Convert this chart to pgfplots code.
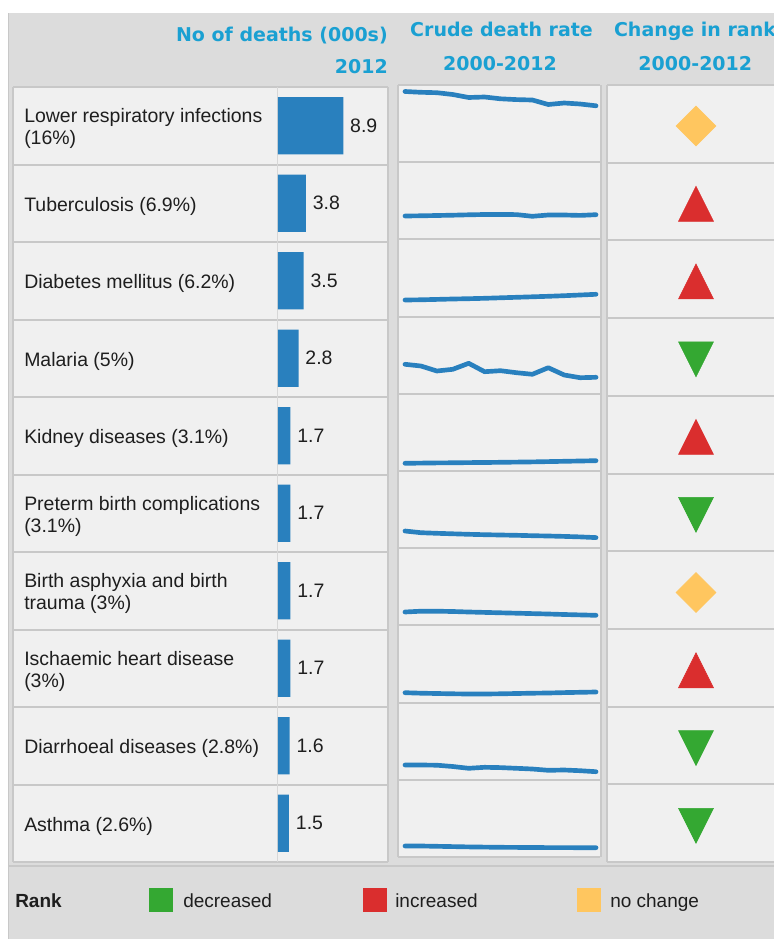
\documentclass[border=0pt]{standalone}
\usepackage{fontspec}
\setmainfont{Liberation Sans}
\newfontfamily\headfont{DejaVu Sans}
\usepackage{pgfplots}
\usepackage{pgfplotstable}
\pgfplotsset{compat=1.18}
\definecolor{panel}{RGB}{220,220,220}
\definecolor{cellbg}{RGB}{240,240,240}
\definecolor{gridc}{RGB}{200,200,200}
\definecolor{divc}{RGB}{215,215,215}
\definecolor{barblue}{RGB}{41,128,190}
\definecolor{headc}{RGB}{26,160,210}
\definecolor{rgreen}{RGB}{52,168,50}
\definecolor{rred}{RGB}{218,46,46}
\definecolor{rorange}{RGB}{255,198,95}
\definecolor{txt}{RGB}{30,30,30}
\newcommand{\labfont}{\fontsize{14.6pt}{16.5pt}\selectfont}
\newcommand{\hfont}{\headfont\bfseries\fontsize{14.25pt}{16pt}\selectfont}

% sparkline positions (screen rows, larger = lower), one column per cause
\pgfplotstableread{
year r1 r2 r3 r4 r5 r6 r7 r8 r9 r10
2000 91.5 216.0 300.0 364.3 463.3 531.0 612.0 692.7 765.0 846.0
2001 92.3 215.8 299.8 366.0 463.1 532.7 611.2 693.2 765.0 846.0
2002 92.7 215.5 299.4 371.0 462.9 533.3 611.2 693.5 765.2 846.3
2003 94.5 215.2 299.0 369.3 462.8 533.8 611.5 693.8 766.5 846.6
2004 97.5 214.8 298.7 363.3 462.6 534.3 612.0 694.0 768.3 846.9
2005 97.0 214.5 298.3 371.7 462.5 534.7 612.4 694.0 767.3 847.1
2006 98.8 214.5 297.8 370.7 462.3 535.0 612.8 693.8 767.6 847.3
2007 99.6 214.6 297.3 372.7 462.1 535.3 613.2 693.5 768.3 847.4
2008 100.0 216.3 296.8 374.3 461.9 535.7 613.6 693.2 769.0 847.5
2009 104.5 215.0 296.3 367.7 461.6 536.0 614.0 693.0 770.3 847.6
2010 103.0 215.0 295.7 375.0 461.3 536.4 614.5 692.6 770.0 847.6
2011 104.0 215.4 295.0 377.7 461.0 536.9 614.9 692.3 770.7 847.7
2012 105.8 214.7 294.3 377.3 460.7 537.6 615.3 692.0 771.7 847.7
}\spark

\begin{document}
\begin{tikzpicture}
\useasboundingbox (0,0) rectangle (580.5pt,704.25pt);
\clip (0,0) rectangle (580.5pt,704.25pt);
% ---------- frame axis in pixel units ----------
\begin{axis}[name=main, at={(0,0)}, anchor=south west, scale only axis,
  width=580.5pt, height=704.25pt, xmin=0, xmax=774, ymin=0, ymax=939,
  y dir=reverse, hide axis, clip=false]
\fill[white] (0,0) rectangle (774,939);
\fill[panel] (8,13) rectangle (774,939);
\draw[gridc, line width=0.8pt] (8.5,13) -- (8.5,939);
% left table
\fill[cellbg] (13,87) rectangle (388,862);
\pgfplotsinvokeforeach{0,...,10}{\draw[gridc, line width=1.5pt] (13,{87+77.5*#1}) -- (388,{87+77.5*#1});}
\draw[gridc, line width=1.2pt] (13,87) -- (13,862);
\draw[gridc, line width=1.2pt] (388,87) -- (388,862);
\draw[divc, line width=0.8pt] (277.5,87) -- (277.5,862);
% spark column
\fill[cellbg] (398,85) rectangle (600,857);
\pgfplotsinvokeforeach{0,...,10}{\draw[gridc, line width=1.5pt] (398,{85+77.2*#1}) -- (600,{85+77.2*#1});}
\draw[gridc, line width=1.2pt] (398,85) -- (398,857);
\draw[gridc, line width=1.5pt] (600.5,85) -- (600.5,857);
% rank column
\fill[cellbg] (607,85) rectangle (780,862);
\pgfplotsinvokeforeach{0,...,10}{\draw[gridc, line width=1.5pt] (607,{85+77.7*#1}) -- (780,{85+77.7*#1});}
\draw[gridc, line width=1.2pt] (607,85) -- (607,862);
% legend separator
\draw[gridc, line width=1.2pt] (8,866) -- (774,866);
% headers
\node[anchor=base east, inner sep=0pt, text=headc, font=\hfont] at (axis cs:388,41.7) {No of deaths (000s)};
\node[anchor=base east, inner sep=0pt, text=headc, font=\hfont] at (axis cs:388,73.3) {2012};
\node[anchor=base, inner sep=0pt, text=headc, font=\hfont] at (axis cs:501.5,36.7) {Crude death rate};
\node[anchor=base, inner sep=0pt, text=headc, font=\hfont] at (axis cs:500,70) {2000-2012};
\node[anchor=base, inner sep=0pt, text=headc, font=\hfont] at (axis cs:695,36.7) {Change in rank};
\node[anchor=base, inner sep=0pt, text=headc, font=\hfont] at (axis cs:695.3,70) {2000-2012};
% legend
\node[anchor=base west, inner sep=0pt, text=txt, font=\bfseries\fontsize{14.25pt}{16pt}\selectfont] at (axis cs:15,907) {Rank};
\node[fill=rgreen, minimum size=18pt, inner sep=0pt] at (axis cs:161,900) {};
\node[fill=rred, minimum size=18pt, inner sep=0pt] at (axis cs:374.5,900) {};
\node[fill=rorange, minimum size=18pt, inner sep=0pt] at (axis cs:588.5,900) {};
\node[anchor=base west, inner sep=0pt, text=txt, font=\fontsize{14.25pt}{16pt}\selectfont] at (axis cs:183,907) {decreased};
\node[anchor=base west, inner sep=0pt, text=txt, font=\fontsize{14.25pt}{16pt}\selectfont] at (axis cs:395,907) {increased};
\node[anchor=base west, inner sep=0pt, text=txt, font=\fontsize{14.25pt}{16pt}\selectfont] at (axis cs:610,907) {no change};
% rank markers
\addplot[only marks, mark=square*, color=rorange, mark size=10.6pt, mark options={rotate=45}]
  coordinates {(696,126) (696,592.5)};
\addplot[only marks, mark=triangle*, color=rred, mark size=15.15pt, mark options={yscale=1.155}]
  coordinates {(696,209.6) (696,287.3) (696,442.8) (696,676.1)};
\addplot[only marks, mark=triangle*, color=rgreen, mark size=15.15pt, mark options={rotate=180, yscale=1.155}]
  coordinates {(696,353.5) (696,509) (696,742.2) (696,820)};
\coordinate (barSW) at (axis cs:278,862);
\coordinate (sparkSW) at (axis cs:398,857);
\end{axis}

% ---------- bars ----------
\begin{axis}[at={(barSW)}, anchor=south west, scale only axis,
  width=82.5pt, height=581.25pt, xmin=0, xmax=15, ymin=0.5, ymax=10.5,
  y dir=reverse, axis line style={draw=none}, tick style={draw=none},
  xtick=\empty, ytick={1,...,10},
  yticklabels={{Lower respiratory infections\\(16\%)},{Tuberculosis (6.9\%)},{Diabetes mellitus (6.2\%)},{Malaria (5\%)},{Kidney diseases (3.1\%)},{Preterm birth complications\\(3.1\%)},{Birth asphyxia and birth\\trauma (3\%)},{Ischaemic heart disease\\(3\%)},{Diarrhoeal diseases (2.8\%)},{Asthma (2.6\%)}},
  yticklabel style={anchor=west, align=left, inner sep=0pt, xshift=-190.5pt, yshift=-2.2pt, font=\labfont, text=txt},
  /pgf/number format/assume math mode=true,
  /pgf/number format/fixed, /pgf/number format/precision=1,
  clip=false]
\addplot[xbar, bar width=0.736, fill=barblue, draw=none, point meta=x,
  nodes near coords,
  every node near coord/.append style={anchor=west, inner sep=0pt, xshift=5pt, font=\labfont, text=txt}]
  coordinates {(8.9,1) (3.8,2) (3.5,3) (2.8,4) (1.7,5) (1.7,6) (1.7,7) (1.7,8) (1.6,9) (1.5,10)};
\end{axis}

% ---------- sparklines ----------
\begin{axis}[at={(sparkSW)}, anchor=south west, scale only axis,
  width=151.5pt, height=579pt, xmin=1999.56, xmax=2012.25, ymin=85, ymax=857,
  y dir=reverse, hide axis, clip=false]
\pgfplotsinvokeforeach{1,...,10}{
  \addplot[barblue, line width=3.5pt, line join=round, line cap=round] table[x=year, y=r#1] {\spark};
}
\end{axis}
\end{tikzpicture}
\end{document}
